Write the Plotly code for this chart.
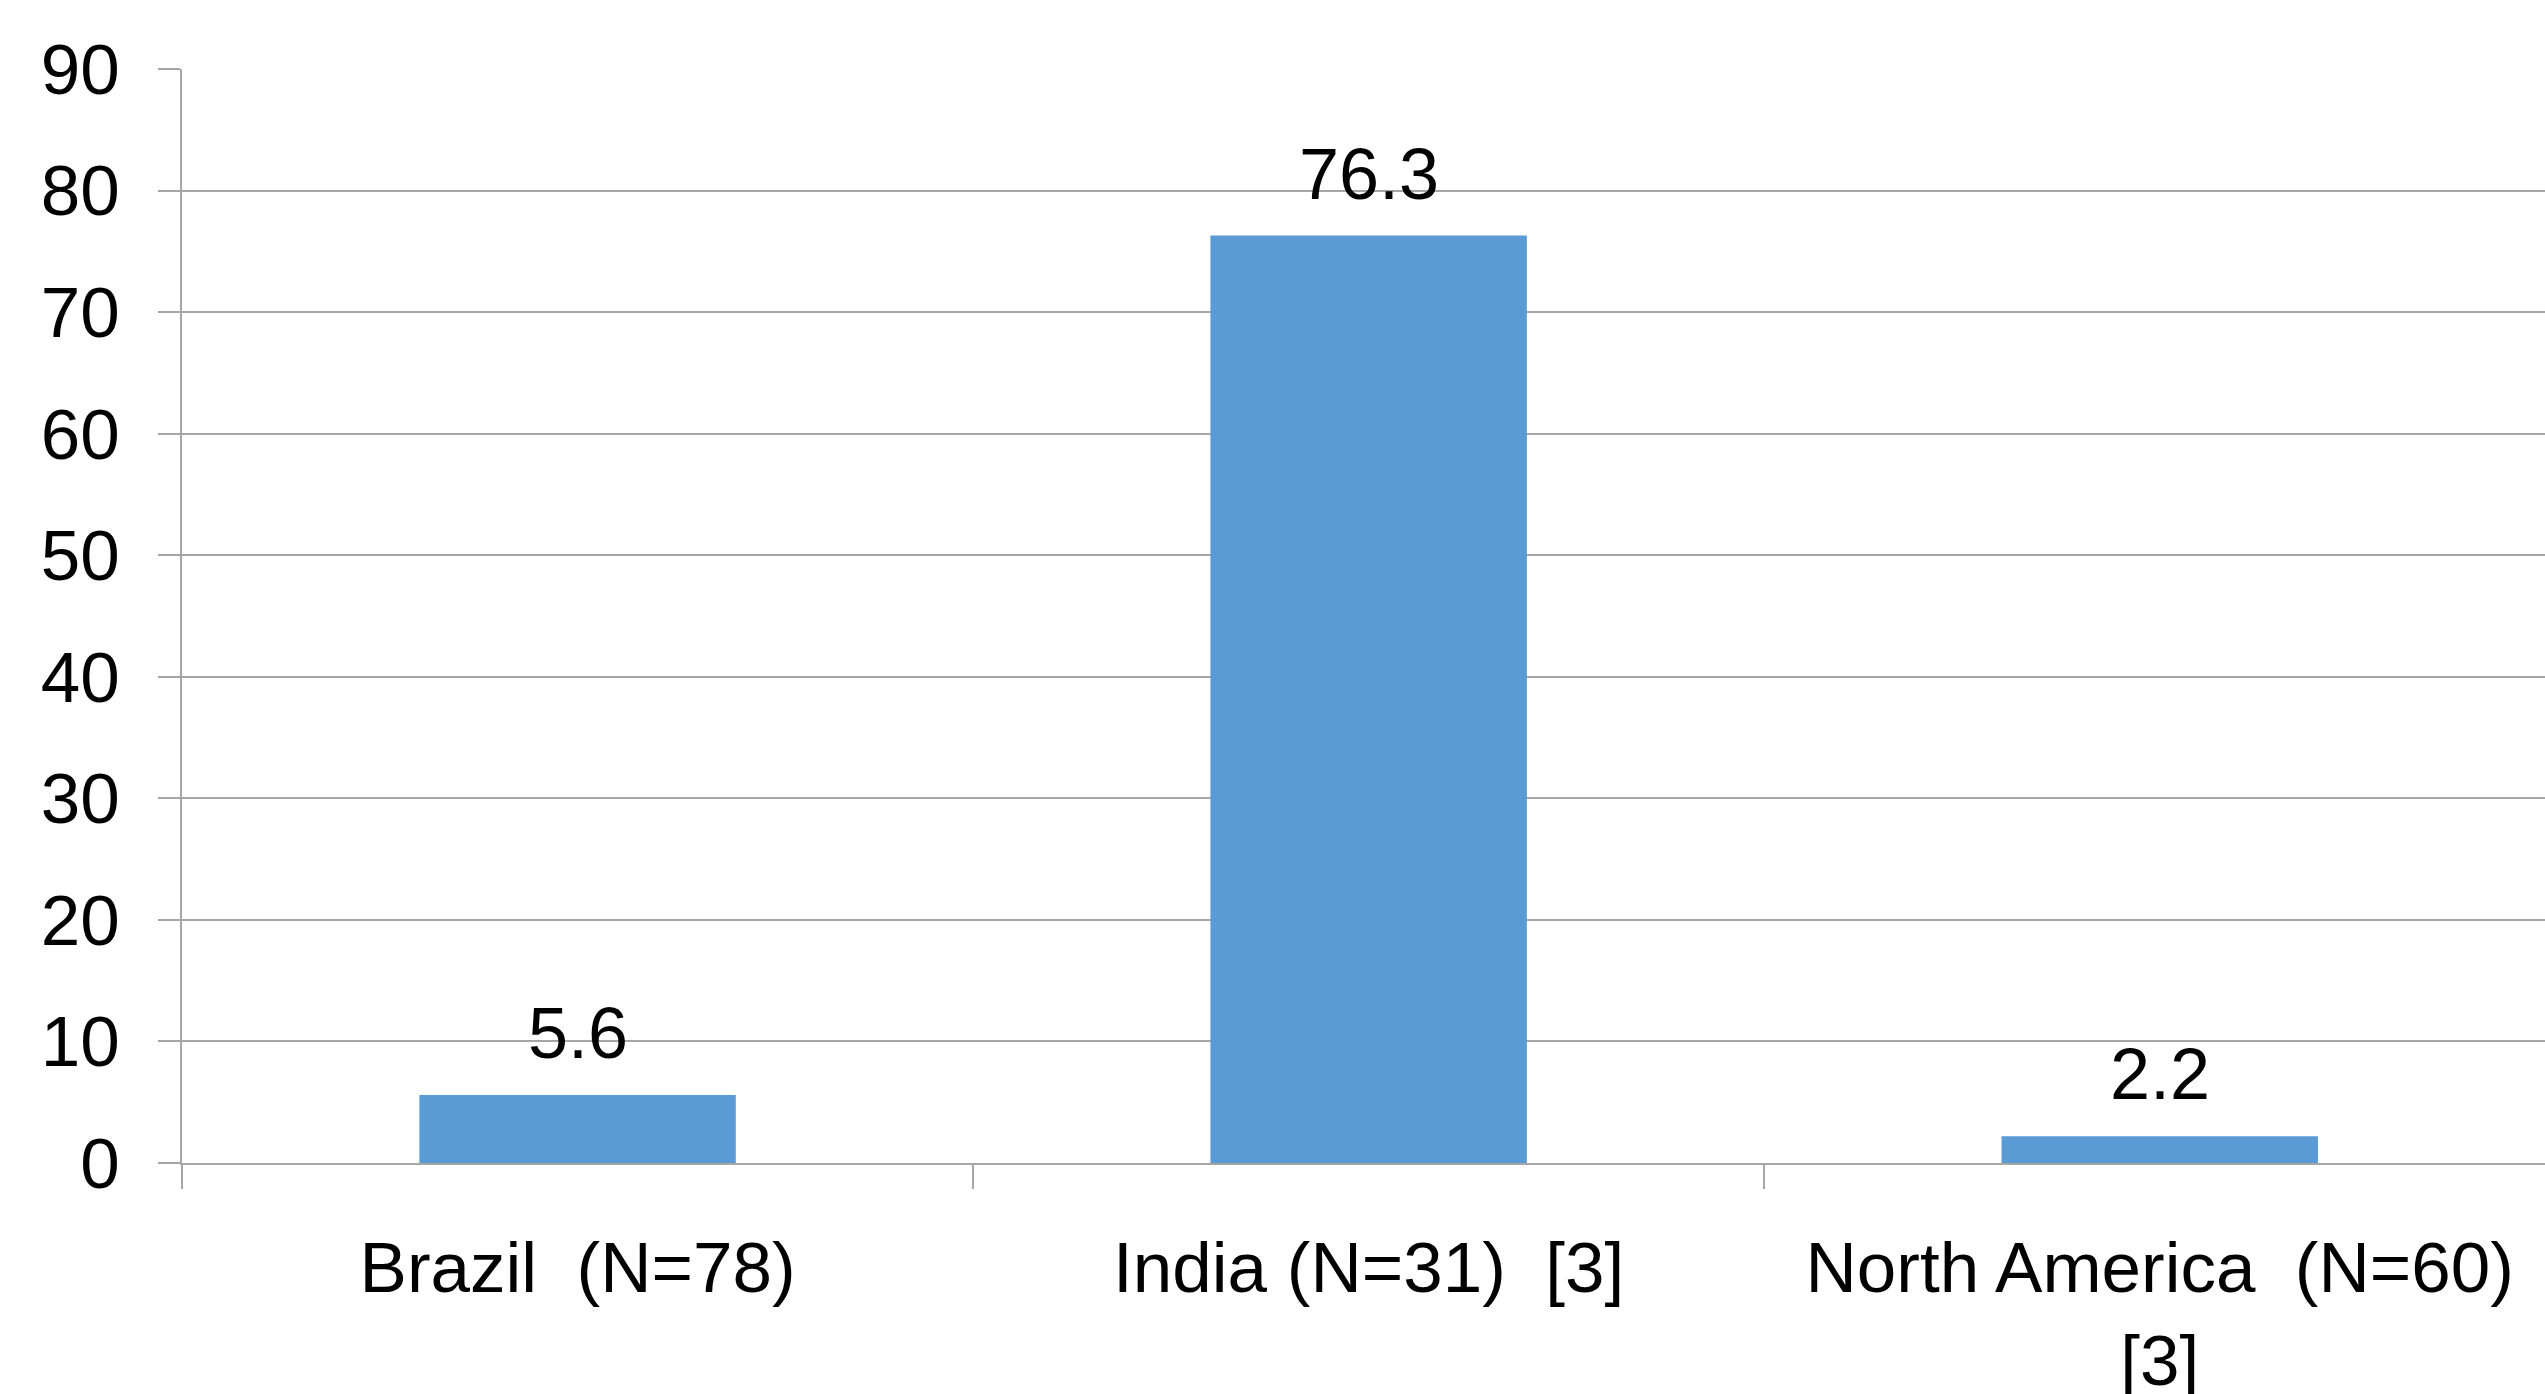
import plotly.graph_objects as go

categories = ["Brazil  (N=78)", "India (N=31)  [3]", "North America  (N=60)<br>[3]"]
values = [5.6, 76.3, 2.2]
value_labels = ["5.6", "76.3", "2.2"]
y_ticks = [0, 10, 20, 30, 40, 50, 60, 70, 80, 90]

GRID = "#a6a6a6"
FONT = "Liberation Sans, Arial, sans-serif"

fig = go.Figure()
fig.add_trace(go.Bar(
    x=categories, y=values, width=0.4,
    marker=dict(color="#5b9bd5", line=dict(width=0)),
    showlegend=False,
))
for c, v, t in zip(categories, values, value_labels):
    fig.add_annotation(x=c, y=v, text=t, showarrow=False, yanchor="bottom",
                       yshift=20, font=dict(family=FONT, size=72, color="black"))

fig.update_layout(
    width=2545, height=1394,
    margin=dict(l=182, r=0, t=69, b=231),
    paper_bgcolor="white", plot_bgcolor="white",
    bargap=0.6,
)
fig.update_xaxes(
    type="category", range=[-0.5, 2.487], automargin=False,
    showline=True, linecolor=GRID, linewidth=2,
    ticks="outside", tickson="boundaries", ticklen=24, tickcolor=GRID, tickwidth=2,
    showgrid=False,
    tickfont=dict(family=FONT, size=71, color="black"),
    ticklabelstandoff=42,
)
fig.update_yaxes(
    range=[0, 90], tickvals=y_ticks, automargin=False,
    showline=True, linecolor=GRID, linewidth=2,
    ticks="outside", ticklen=22, tickcolor=GRID, tickwidth=2,
    showgrid=True, gridcolor=GRID, gridwidth=2,
    zeroline=False,
    tickfont=dict(family=FONT, size=71, color="black"),
    ticklabelstandoff=24,
)
fig.write_html("out.html")
